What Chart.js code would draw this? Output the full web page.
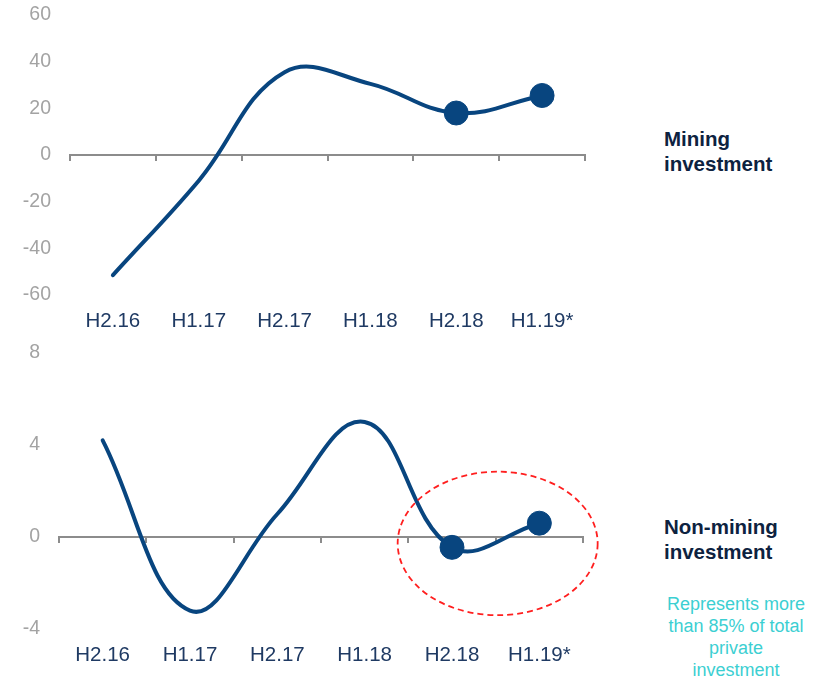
<!DOCTYPE html>
<html>
<head>
<meta charset="utf-8">
<script src="https://cdn.jsdelivr.net/npm/chart.js@4/dist/chart.umd.min.js"></script>
<style>
  html, body { margin: 0; padding: 0; background: #ffffff; }
  body { width: 813px; height: 680px; position: relative; overflow: hidden;
         font-family: "Liberation Sans", Arial, sans-serif; }
  .panel { position: absolute; left: 0; width: 600px; height: 340px; }
  .panel canvas { display: block; }
  .title { position: absolute; left: 664px; font-weight: bold; font-size: 20.5px;
           line-height: 24.5px; color: #0d2240; }
  .note { position: absolute; left: 644px; width: 184px; text-align: center;
          font-size: 18px; line-height: 22px; color: #3ccfd2; }
</style>
</head>
<body>
<div class="panel" style="top:0"><canvas id="mining" width="600" height="340"></canvas></div>
<div class="panel" style="top:340px"><canvas id="nonMining" width="600" height="340"></canvas></div>
<div class="title" style="top:127px">Mining<br>investment</div>
<div class="title" style="top:515px">Non-mining<br>investment</div>
<div class="note" style="top:593px">Represents more<br>than 85% of total<br>private<br>investment</div>
<script>
// Half-yearly periods
const periods = ['H2.16', 'H1.17', 'H2.17', 'H1.18', 'H2.18', 'H1.19*'];

// Growth in investment, per cent
const miningGrowth = [-51.5, -11, 35.5, 30.5, 18, 25.5];
const nonMiningGrowth = [4.2, -3.2, 1.0, 5.0, -0.45, 0.6];

// Value-axis ticks for each panel
const miningTicks = [-60, -40, -20, 0, 20, 40, 60];
const nonMiningTicks = [-4, 0, 4, 8];

// Only the latest two periods get a marker
const markerRadius = [0, 0, 0, 0, 12, 12];

const LINE = '#08457f';
const AXIS = '#8c8c8c';
const FONT = '"Liberation Sans", Arial, sans-serif';

// Horizontal axis line through zero, with tick marks between periods
const zeroAxis = {
  id: 'zeroAxis',
  beforeDatasetsDraw(chart) {
    const xs = chart.scales.x, ys = chart.scales.y;
    const n = periods.length;
    const step = xs.getPixelForValue(1) - xs.getPixelForValue(0);
    const y0 = Math.round(ys.getPixelForValue(0));
    const left = xs.getPixelForValue(0) - step / 2;
    const right = xs.getPixelForValue(n - 1) + step / 2;
    const ctx = chart.ctx;
    ctx.save();
    ctx.strokeStyle = AXIS;
    ctx.lineWidth = 2;
    ctx.beginPath();
    ctx.moveTo(left, y0);
    ctx.lineTo(right, y0);
    for (let i = 0; i <= n; i++) {
      const x = Math.round(left + i * step);
      ctx.moveTo(x, y0 - 1);
      ctx.lineTo(x, y0 + 6);
    }
    ctx.stroke();
    ctx.restore();
  }
};

// Red dashed ring around the two latest non-mining readings
const focusRing = {
  id: 'focusRing',
  afterDatasetsDraw(chart) {
    const xs = chart.scales.x, ys = chart.scales.y;
    const a = xs.getPixelForValue(4), b = xs.getPixelForValue(5);
    const step = b - a;
    const cx = (a + b) / 2 + 2;
    const cy = ys.getPixelForValue(-0.28);
    const rx = step * 1.145;
    const ry = Math.abs(ys.getPixelForValue(0) - ys.getPixelForValue(3.12));
    const ctx = chart.ctx;
    ctx.save();
    ctx.beginPath();
    ctx.ellipse(cx, cy, rx, ry, 0, 0, Math.PI * 2);
    ctx.setLineDash([6, 4]);
    ctx.lineWidth = 1.8;
    ctx.strokeStyle = '#ff1f1f';
    ctx.stroke();
    ctx.restore();
  }
};

function makePanel(id, values, ticks, geom, extraPlugins) {
  const lo = ticks[0], hi = ticks[ticks.length - 1];
  const step = ticks[1] - ticks[0];
  return new Chart(document.getElementById(id), {
    type: 'line',
    data: {
      labels: periods,
      datasets: [{
        data: values,
        borderColor: LINE,
        backgroundColor: LINE,
        borderWidth: 4,
        tension: 0.4,
        pointRadius: markerRadius,
        pointHoverRadius: markerRadius,
        pointBorderWidth: 1,
        pointBorderColor: LINE,
        pointBackgroundColor: LINE,
        borderCapStyle: 'round',
        fill: false,
        clip: false
      }]
    },
    options: {
      responsive: false,
      animation: false,
      events: [],
      layout: { padding: { top: geom.top, right: geom.right, left: 0, bottom: 0 } },
      plugins: { legend: { display: false }, tooltip: { enabled: false } },
      scales: {
        x: {
          type: 'category',
          offset: true,
          position: 'bottom',
          grid: { display: false, drawTicks: false },
          border: { display: false },
          ticks: {
            color: '#1f3a63',
            padding: geom.xPad,
            font: { family: FONT, size: 20.5 },
            maxRotation: 0,
            autoSkip: false
          },
          afterFit(s) { s.height = geom.xHeight; s.paddingLeft = 0; s.paddingRight = 0; }
        },
        y: {
          min: lo,
          max: hi,
          grid: { display: false, drawTicks: false },
          border: { display: false },
          ticks: {
            stepSize: step,
            color: '#a3a3a3',
            padding: geom.yPad,
            font: { family: FONT, size: 19.5 }
          },
          afterBuildTicks(s) { s.ticks = ticks.map(v => ({ value: v })); },
          afterFit(s) { s.width = geom.left; s.paddingTop = 0; s.paddingBottom = 0; }
        }
      }
    },
    plugins: [zeroAxis].concat(extraPlugins)
  });
}

makePanel('mining', miningGrowth, miningTicks,
  { top: 15, right: 15, left: 70, xHeight: 45, xPad: 14, yPad: 19 }, []);
makePanel('nonMining', nonMiningGrowth, nonMiningTicks,
  { top: 10, right: 17, left: 59, xHeight: 51, xPad: 14, yPad: 19 }, [focusRing]);
</script>
</body>
</html>
